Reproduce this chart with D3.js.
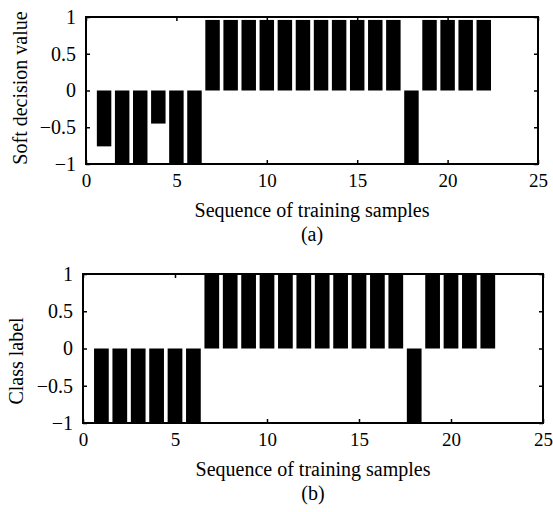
<!DOCTYPE html>
<html>
<head>
<meta charset="utf-8">
<script src="https://cdn.jsdelivr.net/npm/d3@7"></script>
<style>
  body { margin: 0; background: #fff; }
  text { font-family: "Liberation Serif", "Times New Roman", serif; fill: #000; }
</style>
</head>
<body>
<div id="chart"></div>
<script>
const samples = d3.range(1, 23);
const softValues = [-0.76, -1, -1, -0.45, -1, -1, 0.96, 0.96, 0.96, 0.96, 0.96, 0.96, 0.96, 0.96, 0.96, 0.96, 0.96, -1, 0.96, 0.96, 0.96, 0.96];
const classLabels = [-1, -1, -1, -1, -1, -1, 1, 1, 1, 1, 1, 1, 1, 1, 1, 1, 1, -1, 1, 1, 1, 1];
const xTicks = [0, 5, 10, 15, 20, 25];
const yTicks = [-1, -0.5, 0, 0.5, 1];
const yTickLabels = ['\u22121', '\u22120.5', '0', '0.5', '1'];

const W = 553, H = 512;
const svg = d3.select('#chart').append('svg').attr('width', W).attr('height', H);

function panel(values, box, ylabel, caption) {
  const x = d3.scaleLinear().domain([0, 25]).range([box.l, box.r]);
  const y = d3.scaleLinear().domain([-1, 1]).range([box.b, box.t]);
  const g = svg.append('g');
  const bw = x(0.8) - x(0);

  g.selectAll('rect.bar').data(samples).enter().append('rect')
    .attr('x', d => x(d) - bw / 2).attr('width', bw)
    .attr('y', (d, i) => y(Math.max(0, values[i])))
    .attr('height', (d, i) => Math.abs(y(values[i]) - y(0)))
    .attr('fill', '#000');

  const tl = 4;
  // inward ticks on all four sides
  g.append('g').attr('transform', `translate(0,${box.b})`)
    .call(d3.axisBottom(x).tickValues(xTicks).tickSize(-tl).tickPadding(10).tickFormat(d3.format('d')))
    .call(a => a.select('.domain').remove())
    .call(a => a.selectAll('text').attr('font-size', 19));
  g.append('g').attr('transform', `translate(0,${box.t})`)
    .call(d3.axisTop(x).tickValues(xTicks).tickSize(-tl).tickFormat(''))
    .call(a => a.select('.domain').remove());
  g.append('g').attr('transform', `translate(${box.l},0)`)
    .call(d3.axisLeft(y).tickValues(yTicks).tickSize(-tl).tickPadding(10).tickFormat((d, i) => yTickLabels[i]))
    .call(a => a.select('.domain').remove())
    .call(a => a.selectAll('text').attr('font-size', 20));
  g.append('g').attr('transform', `translate(${box.r},0)`)
    .call(d3.axisRight(y).tickValues(yTicks).tickSize(-tl).tickFormat(''))
    .call(a => a.select('.domain').remove());
  g.selectAll('.tick line').attr('stroke', '#000').attr('stroke-width', 1.5);

  g.append('rect').attr('x', box.l).attr('y', box.t)
    .attr('width', box.r - box.l).attr('height', box.b - box.t)
    .attr('fill', 'none').attr('stroke', '#000').attr('stroke-width', 2);

  const cx = (box.l + box.r) / 2;
  g.append('text').attr('x', cx).attr('y', box.b + 53).attr('text-anchor', 'middle')
    .attr('font-size', 20).text('Sequence of training samples');
  g.append('text').attr('x', cx).attr('y', box.b + 77).attr('text-anchor', 'middle')
    .attr('font-size', 20).text(caption);
  g.append('text').attr('transform', `translate(${box.lx},${box.ly}) rotate(-90)`)
    .attr('text-anchor', 'middle').attr('font-size', 20).text(ylabel);
}

panel(softValues, { l: 86, r: 538, t: 17, b: 164, lx: 27, ly: 88 }, 'Soft decision value', '(a)');
panel(classLabels, { l: 83, r: 543, t: 274, b: 423, lx: 23, ly: 361 }, 'Class label', '(b)');
</script>
</body>
</html>
